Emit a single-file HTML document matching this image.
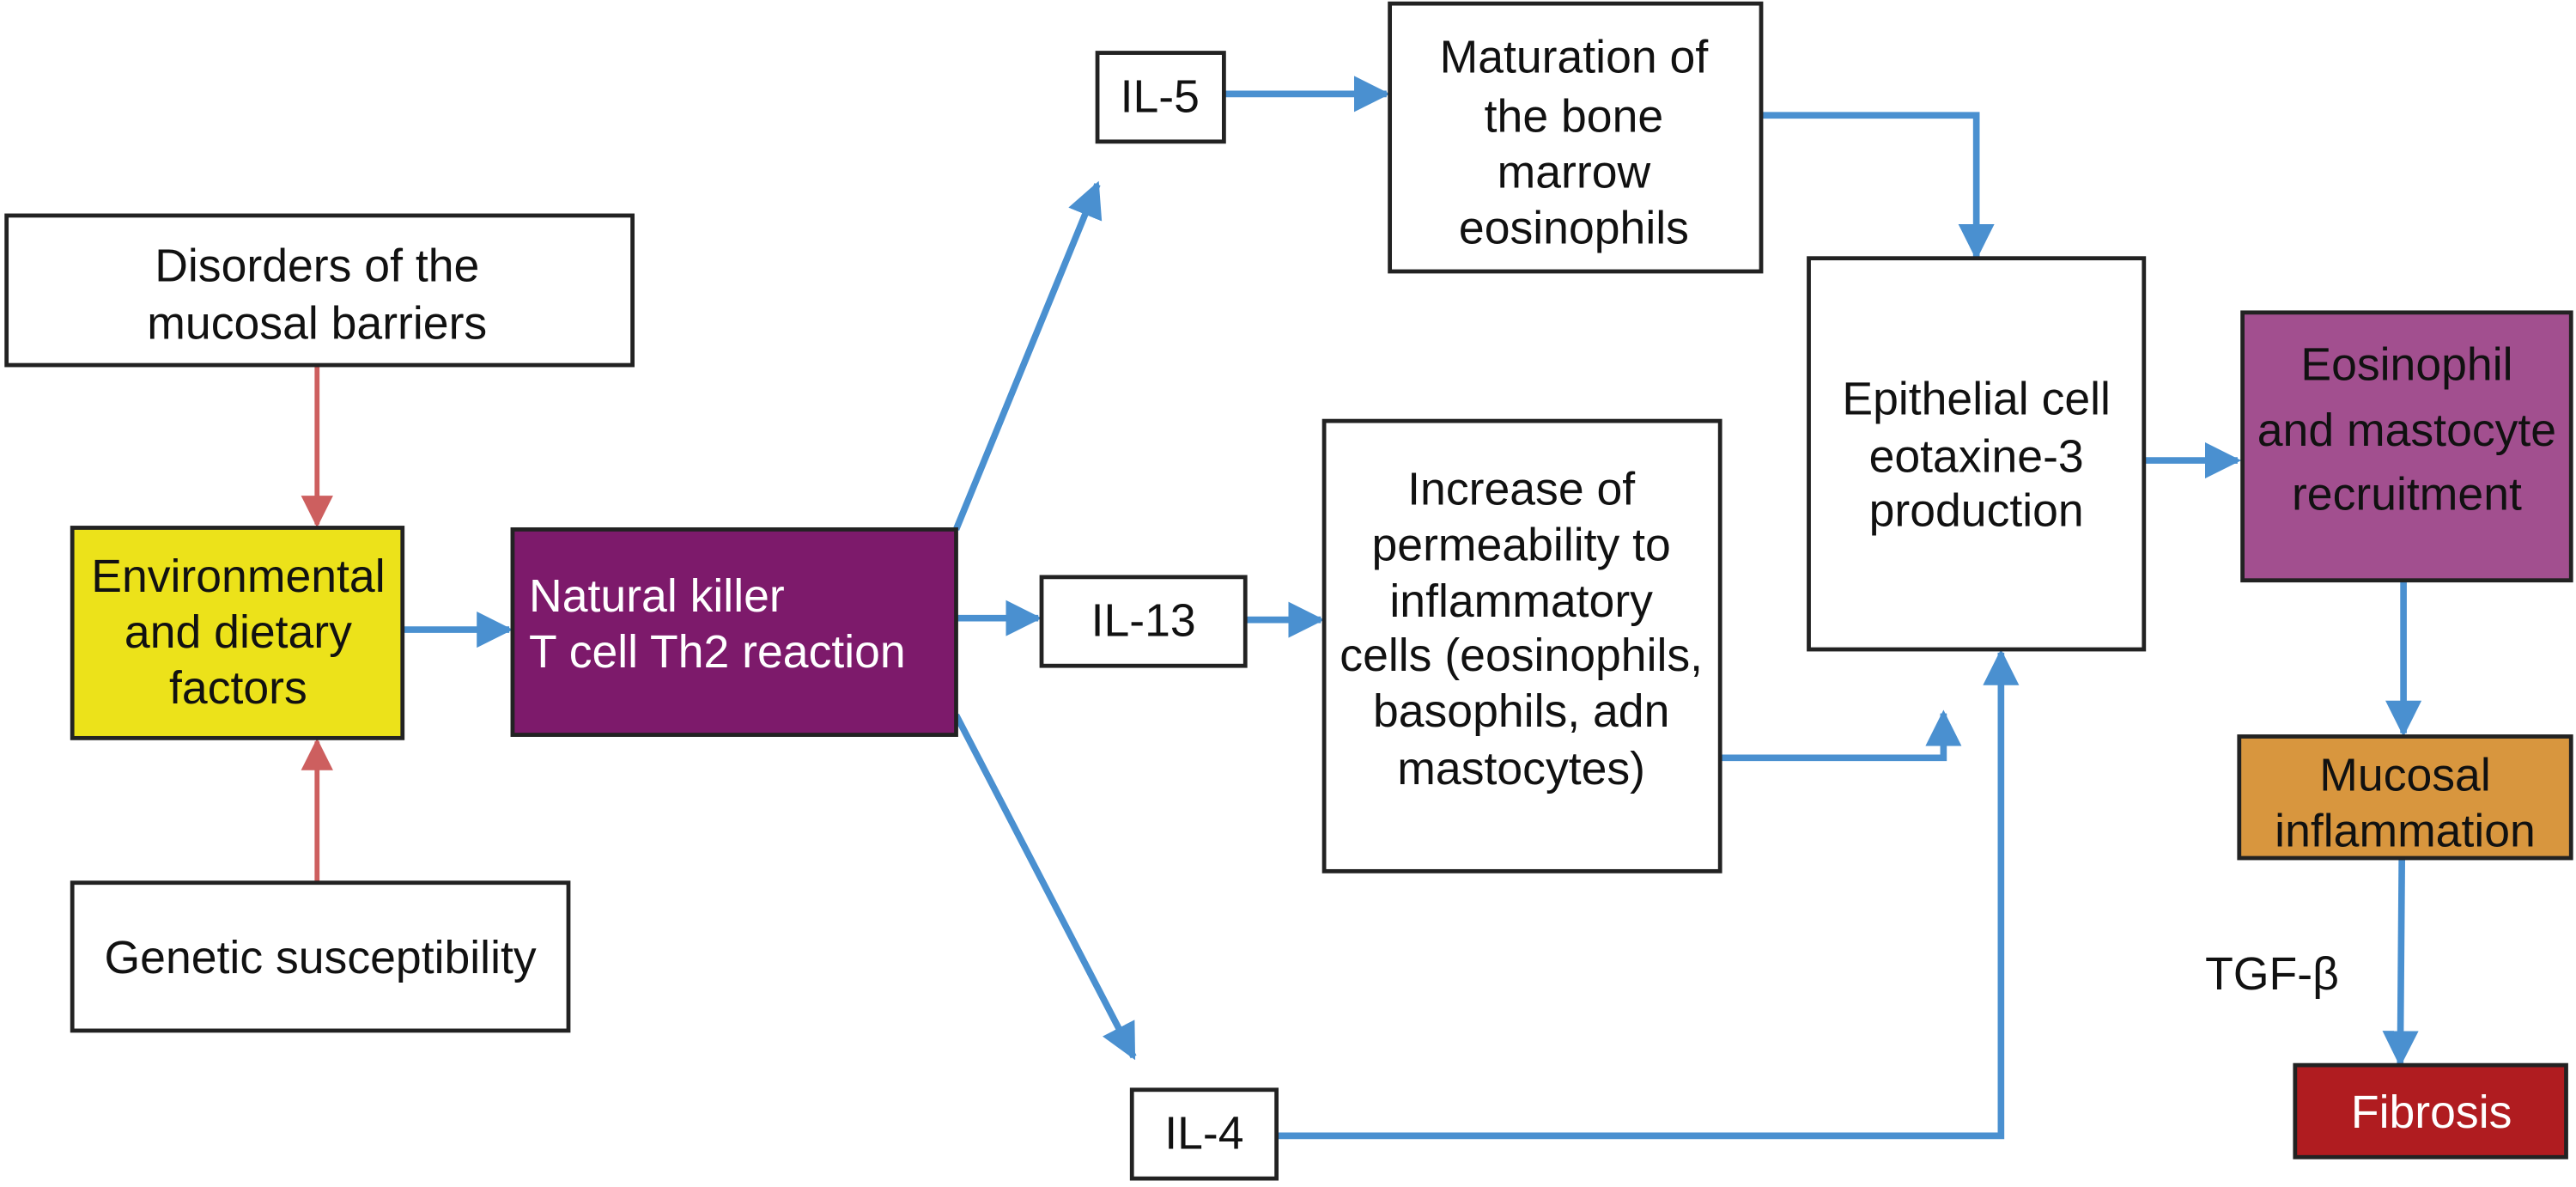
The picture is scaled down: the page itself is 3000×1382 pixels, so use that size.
<!DOCTYPE html>
<html><head><meta charset="utf-8"><style>
html,body{margin:0;padding:0;background:#fff;width:3000px;height:1382px;overflow:hidden}
svg{display:block}
text{font-family:"Liberation Sans",sans-serif;font-size:28px;text-anchor:middle;fill:#111}
</style></head><body>
<svg width="3000" height="1382" viewBox="0 0 1568 722" xmlns="http://www.w3.org/2000/svg">
<defs>
<marker id="b" viewBox="0 0 10 10" refX="9" refY="5" markerWidth="5.5" markerHeight="5.5" orient="auto" markerUnits="strokeWidth"><path d="M0,0 L10,5 L0,10 z" fill="#4a90d0"/></marker>
<marker id="r" viewBox="0 0 10 10" refX="9" refY="5" markerWidth="6.5" markerHeight="6.5" orient="auto" markerUnits="strokeWidth"><path d="M0,0 L10,5 L0,10 z" fill="#cd5f5f"/></marker>
</defs>
<g fill="none" stroke="#cd5f5f" stroke-width="3">
<line x1="193" y1="223" x2="193" y2="319" marker-end="url(#r)"/>
<line x1="193" y1="537" x2="193" y2="451" marker-end="url(#r)"/>
</g>
<g fill="none" stroke="#4a90d0" stroke-width="4">
<line x1="246" y1="383" x2="310" y2="383" marker-end="url(#b)"/>
<line x1="582" y1="322" x2="668" y2="112" marker-end="url(#b)"/>
<line x1="582" y1="376" x2="632" y2="376" marker-end="url(#b)"/>
<line x1="582" y1="435" x2="690" y2="643" marker-end="url(#b)"/>
<line x1="746" y1="57" x2="844" y2="57" marker-end="url(#b)"/>
<polyline points="1072,70 1203,70 1203,156" marker-end="url(#b)"/>
<line x1="758" y1="377" x2="804" y2="377" marker-end="url(#b)"/>
<polyline points="1047,461 1183,461 1183,434" marker-end="url(#b)"/>
<polyline points="777,691 1218,691 1218,397" marker-end="url(#b)"/>
<line x1="1306" y1="280" x2="1362" y2="280" marker-end="url(#b)"/>
<line x1="1463" y1="354" x2="1463" y2="446" marker-end="url(#b)"/>
<line x1="1462" y1="523" x2="1461" y2="647" marker-end="url(#b)"/>
</g>
<g stroke="#222" stroke-width="2.5">
<rect x="4" y="131" width="381" height="91" fill="#fff"/>
<rect x="44" y="321" width="201" height="128" fill="#ece21a"/>
<rect x="44" y="537" width="302" height="90" fill="#fff"/>
<rect x="312" y="322" width="270" height="125" fill="#7d1a6b"/>
<rect x="668" y="32" width="77" height="54" fill="#fff"/>
<rect x="634" y="351" width="124" height="54" fill="#fff"/>
<rect x="689" y="663" width="88" height="54" fill="#fff"/>
<rect x="846" y="2" width="226" height="163" fill="#fff"/>
<rect x="806" y="256" width="241" height="274" fill="#fff"/>
<rect x="1101" y="157" width="204" height="238" fill="#fff"/>
<rect x="1365" y="190" width="200" height="163" fill="#a24f8f"/>
<rect x="1363" y="448" width="202" height="74" fill="#d8963e"/>
<rect x="1397" y="648" width="165" height="56" fill="#b01c20"/>
</g>
<text x="193" y="171">Disorders of the</text>
<text x="193" y="206">mucosal barriers</text>
<text x="145" y="360">Environmental</text>
<text x="145" y="394">and dietary</text>
<text x="145" y="428">factors</text>
<text x="195" y="592">Genetic susceptibility</text>
<text x="322" y="372" style="text-anchor:start;fill:#fff">Natural killer</text>
<text x="322" y="406" style="text-anchor:start;fill:#fff">T cell Th2 reaction</text>
<text x="706" y="68">IL-5</text>
<text x="696" y="387">IL-13</text>
<text x="733" y="699">IL-4</text>
<text x="958" y="44">Maturation of</text>
<text x="958" y="80">the bone</text>
<text x="958" y="114">marrow</text>
<text x="958" y="148">eosinophils</text>
<text x="926" y="307">Increase of</text>
<text x="926" y="341">permeability to</text>
<text x="926" y="375">inflammatory</text>
<text x="926" y="408">cells (eosinophils,</text>
<text x="926" y="442">basophils, adn</text>
<text x="926" y="477">mastocytes)</text>
<text x="1203" y="252">Epithelial cell</text>
<text x="1203" y="287">eotaxine-3</text>
<text x="1203" y="320">production</text>
<text x="1465" y="231">Eosinophil</text>
<text x="1465" y="271">and mastocyte</text>
<text x="1465" y="310">recruitment</text>
<text x="1464" y="481">Mucosal</text>
<text x="1464" y="515">inflammation</text>
<text x="1480" y="686" style="fill:#fff">Fibrosis</text>
<text x="1383" y="602">TGF-β</text>
</svg>
</body></html>
